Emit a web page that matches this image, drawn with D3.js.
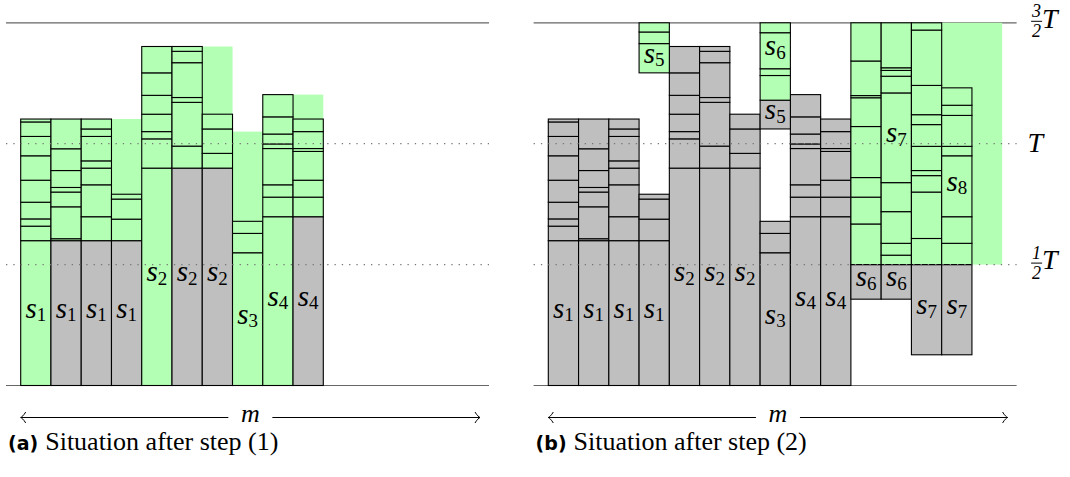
<!DOCTYPE html>
<html>
<head>
<meta charset="utf-8">
<script src="https://d3js.org/d3.v7.min.js"></script>
<style>
  body { margin: 0; background: #fff; }
  .math { font-family: "Liberation Serif", serif; font-style: italic; }
  .cap { font-family: "Liberation Serif", serif; }
</style>
</head>
<body>
<div id="chart"></div>
<script>
// all heights in units of T, machines 1..m
var m = 15;

// step (1): big job s_i at the bottom of machines 1..10
var bigJob  = [1, 1, 1, 1, 2, 2, 2, 3, 4, 4];
var bigTop  = [0.599, 0.599, 0.599, 0.599, 0.899, 0.899, 0.899, 0.549, 0.698, 0.698];
var bigNewA = [1, 0, 0, 0, 1, 0, 0, 1, 1, 0];   // big job drawn green in (a)

// small jobs stacked on machines 1..10 (edges from bottom to top)
var smallEdges = [
  [0.599, 0.659, 0.689, 0.758, 0.849, 0.950, 1.030, 1.090, 1.102],
  [0.599, 0.607, 0.739, 0.800, 0.819, 0.889, 0.979, 1.102],
  [0.599, 0.698, 0.830, 0.899, 0.929, 1.030, 1.061, 1.102],
  [0.599, 0.688, 0.771, 0.791],
  [0.899, 1.020, 1.050, 1.122, 1.200, 1.293, 1.402],
  [0.899, 0.990, 1.171, 1.191, 1.335, 1.382, 1.402],
  [0.899, 0.960, 1.061, 1.122],
  [0.549, 0.629, 0.679],
  [0.698, 0.779, 0.830, 0.980, 0.999, 1.040, 1.111, 1.203],
  [0.698, 0.779, 0.849, 0.968, 0.980, 1.050, 1.102]
];

// green area in (a): first machine, last machine, bottom, top
var shadeA = [[1, 4, 0, 1.102], [5, 7, 0, 1.402], [8, 8, 0, 1.050], [9, 10, 0, 1.203]];
// green area in (b)
var shadeB = [[11, 15, 0.5, 1.5]];

// step (2): added stacks
var extraMachine  = [4, 8, 8, 11, 12, 13, 14, 11, 12, 13, 14];
var extraGreen    = [1, 0, 1, 0, 0, 0, 0, 1, 1, 1, 1];
var extraLabel    = [5, 5, 6, 6, 6, 7, 7, 0, 7, 0, 8];
var extraLabelBox = [0, 0, 2, 0, 0, 0, 0, -1, 4, -1, 2];
var extraEdges = [
  [1.293, 1.414, 1.462, 1.5],
  [1.061, 1.180],
  [1.180, 1.282, 1.310, 1.459, 1.5],
  [0.357, 0.5],
  [0.357, 0.5],
  [0.127, 0.5],
  [0.127, 0.5],
  [0.5, 0.668, 0.779, 0.860, 1.071, 1.190, 1.199, 1.342, 1.5],
  [0.5, 0.539, 0.588, 0.719, 0.839, 1.210, 1.279, 1.303, 1.314, 1.5],
  [0.5, 0.608, 0.800, 0.868, 0.889, 0.989, 1.079, 1.120, 1.241, 1.470, 1.5],
  [0.5, 0.588, 0.698, 0.950, 0.989, 1.117, 1.159, 1.231]
];

var levels = [0.5, 1];          // dotted
var captions = ["(a)", "(b)"];
var captionText = ["Situation after step (1)", "Situation after step (2)"];

var GREEN = "#b3ffb3", GRAY = "#bfbfbf";
var width = 1070, height = 477;

var svg = d3.select("#chart").append("svg")
  .attr("width", width).attr("height", height);

var x = d3.scaleLinear().domain([0, m]).range([20.7, 474.6]);
var y = d3.scaleLinear().domain([0, 1.5]).range([385.5, 22.8]);

function label(g, cx, cy, i) {
  var t = g.append("text").attr("class", "math")
    .attr("x", cx).attr("y", cy + 4.5)
    .attr("text-anchor", "middle");
  t.append("tspan").attr("font-size", 29).text("s");
  t.append("tspan").attr("font-size", 19).attr("font-style", "normal")
    .attr("dy", 3.5).text(i);
}

function stack(g, mach, edges, fill, lab, labBox) {
  for (var k = 0; k < edges.length - 1; k++) {
    g.append("rect")
      .attr("x", x(mach - 1)).attr("width", x(1) - x(0))
      .attr("y", y(edges[k + 1])).attr("height", y(edges[k]) - y(edges[k + 1]))
      .attr("fill", fill).attr("stroke", "#000").attr("stroke-width", 1.1);
  }
  if (lab && labBox >= 0) {
    label(g, x(mach - 0.5), (y(edges[labBox]) + y(edges[labBox + 1])) / 2, lab);
  }
}

function frame(g) {
  g.selectAll(".hl").data([0, 1.5]).enter().append("line")
    .attr("x1", 6).attr("x2", 489)
    .attr("y1", function(d) { return y(d); }).attr("y2", function(d) { return y(d); })
    .attr("stroke", "#666").attr("stroke-width", 1.2);
}

function dotted(g) {
  g.selectAll(".dl").data(levels).enter().append("line")
    .attr("x1", 6).attr("x2", 489)
    .attr("y1", function(d) { return y(d); }).attr("y2", function(d) { return y(d); })
    .attr("stroke", "#777").attr("stroke-width", 1.3)
    .attr("stroke-dasharray", "1.3,6");
}

function arrow(g) {
  var ay = 417.5, x0 = x(0), x1 = x(m) + 5.4, c = (x0 + x1) / 2;
  g.append("line").attr("x1", x0).attr("x2", c - 22).attr("y1", ay).attr("y2", ay)
    .attr("stroke", "#000").attr("stroke-width", 1);
  g.append("line").attr("x1", c + 22).attr("x2", x1).attr("y1", ay).attr("y2", ay)
    .attr("stroke", "#000").attr("stroke-width", 1);
  g.append("path")
    .attr("d", "M" + (x0 + 5) + "," + (ay - 5.5) + " C" + (x0 + 3) + "," + (ay - 2) + " " + (x0 + 1) + "," + (ay - 0.5) + " " + x0 + "," + ay +
               " C" + (x0 + 1) + "," + (ay + 0.5) + " " + (x0 + 3) + "," + (ay + 2) + " " + (x0 + 5) + "," + (ay + 5.5))
    .attr("fill", "none").attr("stroke", "#000").attr("stroke-width", 1);
  g.append("path")
    .attr("d", "M" + (x1 - 5) + "," + (ay - 5.5) + " C" + (x1 - 3) + "," + (ay - 2) + " " + (x1 - 1) + "," + (ay - 0.5) + " " + x1 + "," + ay +
               " C" + (x1 - 1) + "," + (ay + 0.5) + " " + (x1 - 3) + "," + (ay + 2) + " " + (x1 - 5) + "," + (ay + 5.5))
    .attr("fill", "none").attr("stroke", "#000").attr("stroke-width", 1);
  g.append("text").attr("class", "math").attr("x", c).attr("y", ay + 4)
    .attr("text-anchor", "middle").attr("font-size", 26).text("m");
}

function caption(g, i) {
  var t = g.append("text").attr("x", 8).attr("y", 450);
  t.append("tspan").attr("font-family", "DejaVu Sans").attr("font-weight", "bold")
    .attr("font-size", 19).text(captions[i]);
  t.append("tspan").attr("class", "cap").attr("font-size", 26).attr("dx", 7).text(captionText[i]);
}

function shade(g, list) {
  list.forEach(function(s) {
    g.append("rect")
      .attr("x", x(s[0] - 1)).attr("width", x(s[1]) - x(s[0] - 1))
      .attr("y", y(s[3])).attr("height", y(s[2]) - y(s[3]))
      .attr("fill", GREEN);
  });
}

// ---------- panel (a)
var ga = svg.append("g");
frame(ga);
shade(ga, shadeA);
bigJob.forEach(function(j, i) {
  stack(ga, i + 1, [0, bigTop[i]], bigNewA[i] ? GREEN : GRAY, j, 0);
  stack(ga, i + 1, smallEdges[i], GREEN, 0, -1);
});
dotted(ga);
arrow(ga);
caption(ga, 0);

// ---------- panel (b)
var gb = svg.append("g").attr("transform", "translate(527.6,0)");
frame(gb);
shade(gb, shadeB);
bigJob.forEach(function(j, i) {
  stack(gb, i + 1, [0, bigTop[i]], GRAY, j, 0);
  stack(gb, i + 1, smallEdges[i], GRAY, 0, -1);
});
extraMachine.forEach(function(mc, i) {
  stack(gb, mc, extraEdges[i], extraGreen[i] ? GREEN : GRAY, extraLabel[i], extraLabelBox[i]);
});
dotted(gb);
arrow(gb);
caption(gb, 1);

// level labels on the right
function frac(g, lx, ly, num) {
  g.append("text").attr("class", "math").attr("font-style", "normal")
    .attr("x", lx).attr("y", ly - 6).attr("text-anchor", "middle").attr("font-size", 18).text(num);
  g.append("line").attr("x1", lx - 5.5).attr("x2", lx + 5.5)
    .attr("y1", ly - 1.5).attr("y2", ly - 1.5).attr("stroke", "#000").attr("stroke-width", 1);
  g.append("text").attr("class", "math").attr("font-style", "normal")
    .attr("x", lx).attr("y", ly + 14.5).attr("text-anchor", "middle").attr("font-size", 18).text("2");
  g.append("text").attr("class", "math").attr("x", lx + 5.5).attr("y", ly + 4.8)
    .attr("font-size", 28).text("T");
}
frac(gb, 509, y(1.5), "3");
frac(gb, 509, y(0.5), "1");
gb.append("text").attr("class", "math").attr("x", 500).attr("y", y(1) + 8.5)
  .attr("font-size", 28).text("T");
</script>
</body>
</html>
